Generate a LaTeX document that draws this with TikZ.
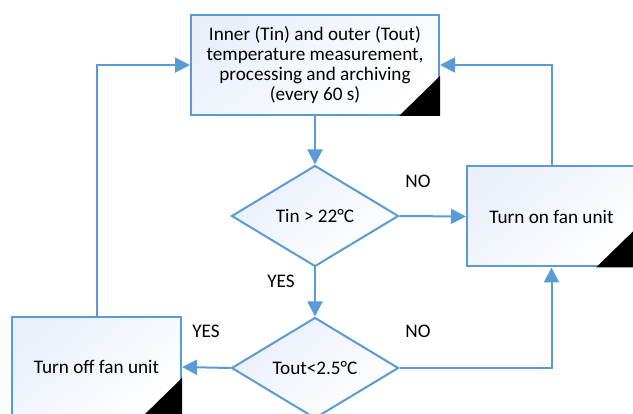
\documentclass[tikz,border=0pt]{standalone}
\usepackage{fontspec}
\setmainfont{Carlito}
\usetikzlibrary{shapes.geometric,arrows.meta}
\definecolor{edgeblue}{RGB}{91,155,213}
\definecolor{fillblue}{RGB}{234,239,250}
\tikzset{
  box/.style={draw=edgeblue, line width=2pt, inner sep=0pt, align=center,
    top color=fillblue, bottom color=white, shading angle=40,
    minimum width=#1, minimum height=100pt},
  decision/.style={diamond, draw=edgeblue, line width=2pt, inner sep=0pt,
    top color=fillblue, bottom color=white, shading angle=40,
    minimum width=167pt, minimum height=101pt},
  conn/.style={draw=edgeblue, line width=2pt, -{Triangle[length=15pt,width=15pt]}},
  lbl/.style={inner sep=0pt}
}
\begin{document}
\begin{tikzpicture}[x=1pt,y=-1pt,font=\fontsize{19.2}{20}\selectfont]
\useasboundingbox (0,0) rectangle (633,414);
\node[box=248pt] (top) at (315,65) {Inner (Tin) and outer (Tout)\\temperature measurement,\\processing and archiving\\(every 60 s)};
\node[decision] (d1) at (315,216) {Tin > 22°C};
\node[decision] (d2) at (315,368) {Tout<2.5°C};
\node[box=169pt] (on) at (551.5,216.5) {Turn on fan unit};
\node[box=169pt] (off) at (96.5,367) {Turn off fan unit};
% black corner triangles
\foreach \b in {top,on,off}{
  \fill[black] (\b.south east) -- ++(-41,0) -- ++(41,-40) -- cycle;
}
\draw[conn] (top.south) -- (d1.north);
\draw[conn] (d1.east) -- (on.west);
\draw[conn] (on.north) |- (top.east);
\draw[conn] (d1.south) -- (d2.north);
\draw[conn] (d2.east) -| (on.south);
\draw[conn] (d2.west) -- (off.east);
\draw[conn] (off.north) |- (top.west);
\node[lbl] (no1) at (418,181) {NO};
\node[lbl] (yes1) at (281,281) {YES};
\node[lbl] (no2) at (418,331) {NO};
\node[lbl] (yes2) at (206,331) {YES};
\end{tikzpicture}
\end{document}
